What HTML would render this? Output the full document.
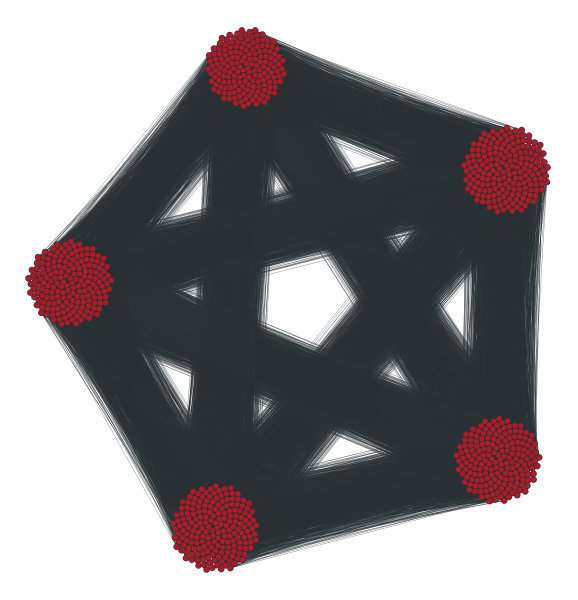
<!DOCTYPE html>
<html>
<head>
<meta charset="utf-8">
<style>
  html, body { margin: 0; padding: 0; background: #ffffff; }
  #chart { display: block; }
</style>
</head>
<body>
<svg id="chart" width="578" height="600" viewBox="0 0 578 600" xmlns="http://www.w3.org/2000/svg">
  <rect x="0" y="0" width="578" height="600" fill="#ffffff"></rect>
  <g id="edges"></g>
  <g id="nodes"></g>
</svg>
<script>
// Cluster data
const clusterNames = ["top", "right", "bottom-right", "bottom-left", "left"];
const clusterCenterX = [246, 506, 498, 215, 70];
const clusterCenterY = [68, 170, 460, 528, 283];
const clusterRadius = [39, 43, 42, 43, 42];
const clusterNodeCount = [170, 190, 185, 190, 185];
const edgesPerPair = [1600, 1600, 1600, 1600, 1600, 1600, 1600, 1600, 1600, 1600];

const svgNS = "http://www.w3.org/2000/svg";
const edgesG = document.getElementById("edges");
const nodesG = document.getElementById("nodes");

function nodePositions(c) {
  const n = clusterNodeCount[c];
  const pts = [];
  for (let i = 0; i < n; i++) {
    const r = clusterRadius[c] * Math.sqrt((i + 0.5) / n);
    const t = i * 2.399963;
    pts.push([clusterCenterX[c] + r * Math.cos(t), clusterCenterY[c] + r * Math.sin(t)]);
  }
  return pts;
}

const allPts = clusterNames.map((_, c) => nodePositions(c));
const g1 = 1.32471795724474602596;
const a1 = 1 / g1, a2 = 1 / (g1 * g1);
function frac(x) { return x - Math.floor(x); }

// edges between every pair of clusters
let p = 0;
for (let a = 0; a < clusterNames.length; a++) {
  for (let b = a + 1; b < clusterNames.length; b++) {
    const A = allPts[a], B = allPts[b];
    const m = edgesPerPair[p];
    let d = "";
    for (let k = 0; k < m; k++) {
      const i = Math.floor(frac(0.5 + (k + p * 97) * a1) * A.length);
      const j = Math.floor(frac(0.5 + (k + p * 97) * a2) * B.length);
      d += "M" + A[i][0].toFixed(1) + " " + A[i][1].toFixed(1) + "L" + B[j][0].toFixed(1) + " " + B[j][1].toFixed(1);
    }
    const path = document.createElementNS(svgNS, "path");
    path.setAttribute("d", d);
    path.setAttribute("stroke", "#2b3236");
    path.setAttribute("stroke-width", "0.4");
    path.setAttribute("stroke-opacity", "0.7");
    path.setAttribute("fill", "none");
    
    
    edgesG.appendChild(path);
    p++;
  }
}

// nodes
for (let c = 0; c < clusterNames.length; c++) {
  const g = document.createElementNS(svgNS, "g");
  
  
  allPts[c].forEach(pt => {
    const circ = document.createElementNS(svgNS, "circle");
    circ.setAttribute("cx", pt[0].toFixed(1));
    circ.setAttribute("cy", pt[1].toFixed(1));
    circ.setAttribute("r", "3");
    circ.setAttribute("fill", "#a81d29");
    circ.setAttribute("stroke", "#3a2a2c");
    circ.setAttribute("stroke-width", "0.6");
    
    
    g.appendChild(circ);
  });
  nodesG.appendChild(g);
}
</script>
</body>
</html>
